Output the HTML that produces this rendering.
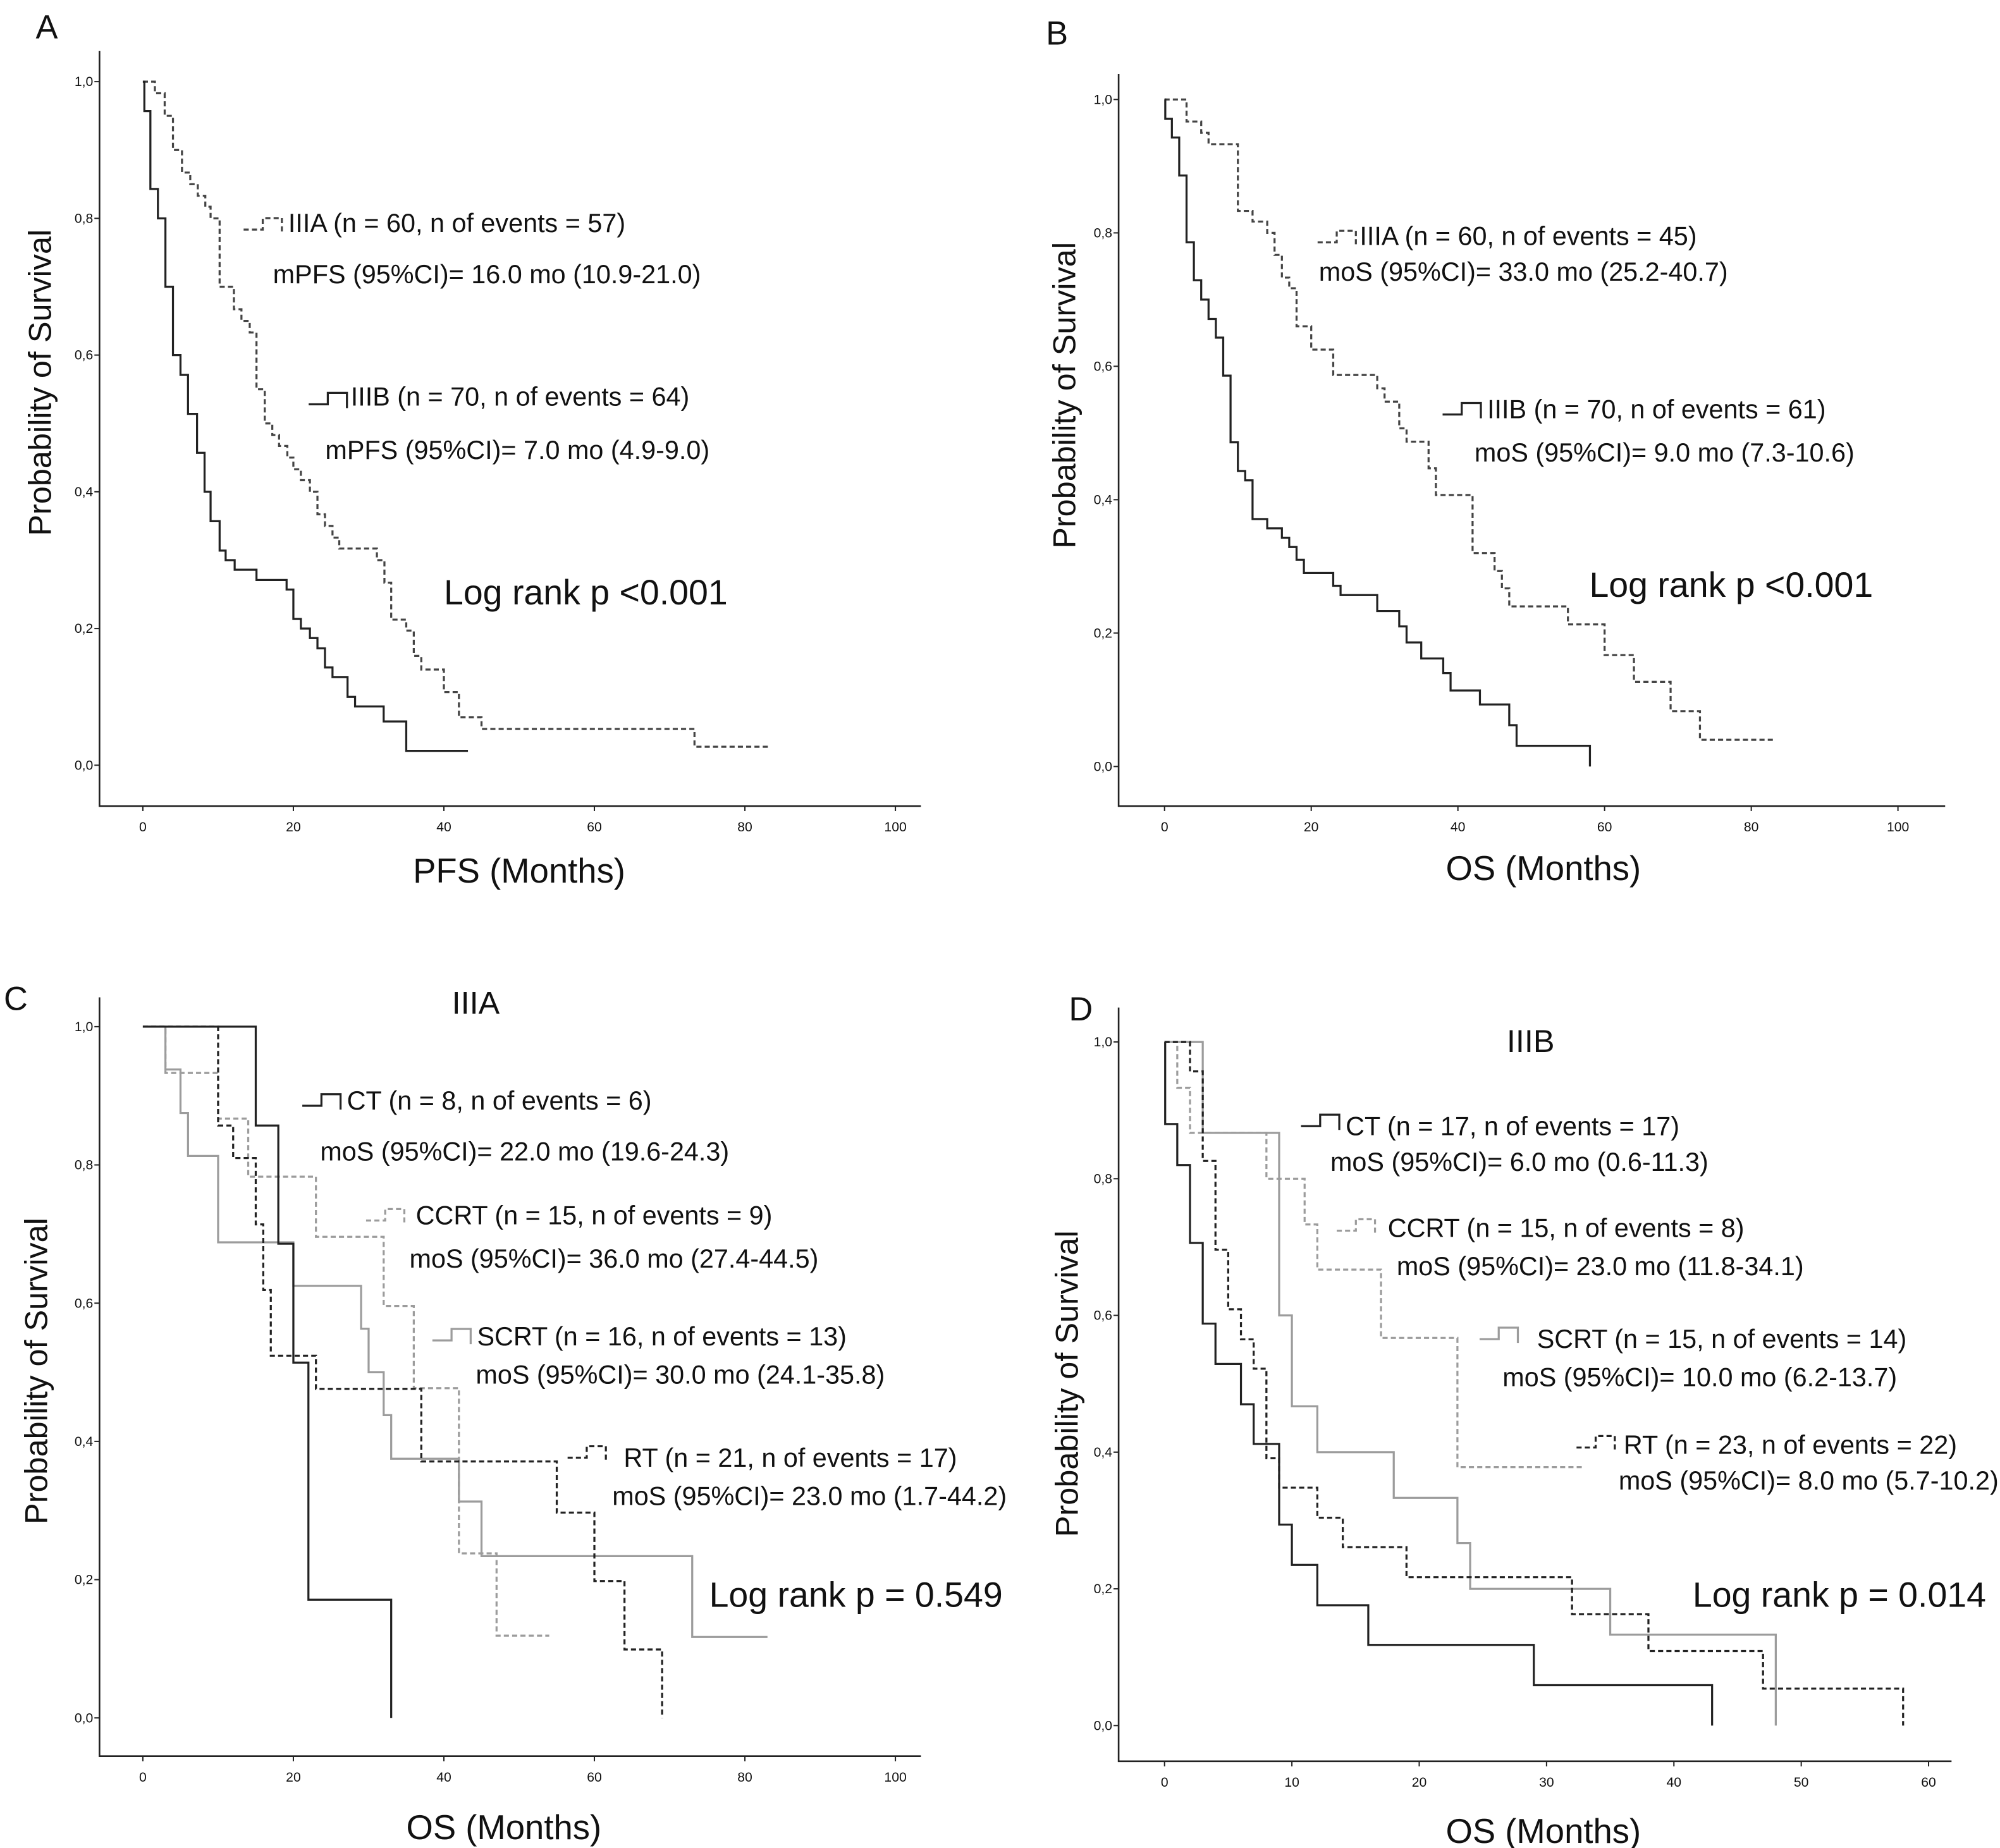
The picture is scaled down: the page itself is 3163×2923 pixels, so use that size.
<!DOCTYPE html>
<html><head><meta charset="utf-8"><style>
html,body{margin:0;padding:0;background:#fff}
svg{display:block}
text{font-family:"Liberation Sans",sans-serif;fill:#111}
</style></head><body>
<svg id="fig" width="3163" height="2923" viewBox="0 0 1568 1449" xmlns="http://www.w3.org/2000/svg">
<rect x="0" y="0" width="1568" height="1449" fill="#fff"/>
</svg>
<script>
// ---- Panel A (PFS) ----
const aIIIAt=[0,1.6,2.9,4,5.2,6.3,7.3,8.3,9,10.2,12.1,13.1,14.2,15.1,16.2,17.2,18.1,19.2,20,21,22.2,23.2,24.2,25.2,26.1,31.1,32.1,33,35,36,37,40,42,45,73.3];
const aIIIAs=[1,0.983,0.95,0.9,0.867,0.85,0.833,0.817,0.8,0.7,0.667,0.65,0.633,0.55,0.5,0.483,0.467,0.45,0.433,0.417,0.4,0.367,0.35,0.333,0.317,0.3,0.267,0.213,0.197,0.16,0.14,0.107,0.07,0.053,0.027];
const aIIIAend=83.2;
const aIIIBt=[0,0.2,1,2,3,4,5,6,7.2,8.2,9,10.2,11,12.2,15.1,19.1,20,21,22.2,23.2,24.2,25.2,27.2,28.2,32,35];
const aIIIBs=[1,0.957,0.843,0.8,0.7,0.6,0.571,0.514,0.457,0.4,0.357,0.314,0.3,0.286,0.271,0.257,0.214,0.2,0.186,0.171,0.143,0.129,0.1,0.086,0.064,0.021];
const aIIIBend=43.2;
// ---- Panel B (OS) ----
const bIIIAt=[0,3,5,6,10,12,14,15,16,17,18,20,23,29,30,32,33,36,37,42,45,46,47,55,60,64,69,73];
const bIIIAs=[1,0.967,0.95,0.933,0.833,0.817,0.8,0.767,0.733,0.717,0.66,0.625,0.587,0.567,0.547,0.507,0.487,0.447,0.407,0.32,0.293,0.267,0.24,0.213,0.167,0.127,0.083,0.04];
const bIIIAend=83;
const bIIIBt=[0,0.1,1,2,3,4,5,6,7,8,9,10,11,12,14,16,17,18,19,23,24,29,32,33,35,38,39,43,47,48,58];
const bIIIBs=[1,0.971,0.943,0.886,0.786,0.729,0.7,0.671,0.643,0.586,0.486,0.443,0.429,0.371,0.357,0.343,0.329,0.31,0.29,0.271,0.257,0.233,0.21,0.186,0.162,0.14,0.114,0.093,0.062,0.031,0];
const bIIIBend=58;
// ---- Panel C (IIIA subgroups) ----
const cCTt=[0,15,18,20,22,33];
const cCTs=[1,0.857,0.686,0.514,0.171,0];
const cCCRTt=[0,3,10,14,23,32,36,42,47];
const cCCRTs=[1,0.933,0.867,0.783,0.696,0.596,0.477,0.238,0.119];
const cCCRTend=54;
const cSCRTt=[0,3,5,6,10,20,29,30,32,33,42,45,73];
const cSCRTs=[1,0.938,0.875,0.813,0.688,0.625,0.563,0.5,0.438,0.375,0.313,0.234,0.117];
const cSCRTend=83;
const cRTt=[0,10,12,15,16,17,23,37,55,60,64,69];
const cRTs=[1,0.857,0.81,0.714,0.619,0.524,0.476,0.371,0.297,0.198,0.099,0];
// ---- Panel D (IIIB subgroups) ----
const dCTt=[0,0.05,1,2,3,4,6,7,9,10,12,16,29,43];
const dCTs=[1,0.88,0.82,0.706,0.588,0.529,0.47,0.412,0.294,0.235,0.176,0.118,0.059,0];
const dCCRTt=[0,1,2,8,11,12,17,23];
const dCCRTs=[1,0.933,0.867,0.8,0.733,0.667,0.567,0.378];
const dCCRTend=33;
const dSCRTt=[0,3,9,10,12,18,23,24,35,48];
const dSCRTs=[1,0.867,0.6,0.467,0.4,0.333,0.267,0.2,0.133,0];
const dRTt=[0,2,3,4,5,6,7,8,9,12,14,19,32,38,47,58];
const dRTs=[1,0.957,0.826,0.696,0.609,0.565,0.522,0.391,0.348,0.304,0.261,0.217,0.163,0.109,0.054,0];
// ticks
const yTicks=[0,0.2,0.4,0.6,0.8,1.0];
const yTickLabels=["0,0","0,2","0,4","0,6","0,8","1,0"];
const xTicks100=[0,20,40,60,80,100];
const xTicks60=[0,10,20,30,40,50,60];

const NS="http://www.w3.org/2000/svg";
const svg=document.getElementById('fig');
function mk(tag,attrs,parent){const e=document.createElementNS(NS,tag);for(const k in attrs)e.setAttribute(k,attrs[k]);(parent||svg).appendChild(e);return e;}
function txt(s,x,y,size,parent,anchor){const t=mk('text',{x:x,y:y,'font-size':size,'text-anchor':anchor||'start'},parent);t.textContent=s;return t;}

function panel(p){
  const g=mk('g',{});
  
  
  const X=v=>p.x0+(v-p.xmin)/(p.xmax-p.xmin)*(p.x1-p.x0);
  const Y=v=>p.y0+(v)*(p.y1-p.y0);
  const frame=mk('path',{d:`M${p.fl},${p.ft} V${p.fb} H${p.fr}`,fill:'none',stroke:'#222','stroke-width':1.3},g);
  
  
  yTicks.forEach((v,i)=>{
    mk('line',{x1:p.fl-4,x2:p.fl,y1:Y(v),y2:Y(v),stroke:'#222','stroke-width':1},g);
    const t=txt(yTickLabels[i],p.fl-5,Y(v)+3.5,10.5,g,'end');
    
    
  });
  p.xticks.forEach(v=>{
    mk('line',{x1:X(v),x2:X(v),y1:p.fb,y2:p.fb+4,stroke:'#222','stroke-width':1},g);
    const t=txt(String(v),X(v),p.fb+20,10.5,g,'middle');
    
    
  });
  const yt=mk('text',{x:0,y:0,'font-size':25,'text-anchor':'middle',transform:`translate(${p.ytx},${p.yty}) rotate(-90)`},g);
  yt.textContent='Probability of Survival';
  
  
  const xt=txt(p.xtitle,p.xtx,p.xty,27,g,'middle');
  
  
  const lt=txt(p.letter,p.lx,p.ly,26,g);
  
  
  if(p.sub){const s=txt(p.sub[0],p.sub[1],p.sub[2],25,g,'middle');
    
    }
  p.curves.forEach(c=>{
    let d=`M${X(c.t[0])},${Y(c.s[0])}`;
    for(let i=1;i<c.t.length;i++){d+=` H${X(c.t[i])} V${Y(c.s[i])}`;}
    if(c.end!==undefined)d+=` H${X(c.end)}`;
    const path=mk('path',{d:d,fill:'none',stroke:c.col,'stroke-width':1.6,'stroke-dasharray':c.dash||'none'},g);
    
    
  });
  p.legend.forEach(l=>{
    const m=mk('path',{d:`M${l.mx},${l.my} h15 v-9 h15 v12`,fill:'none',stroke:l.col,'stroke-width':1.6,'stroke-dasharray':l.dash||'none'},g);
    
    
    const t1=txt(l.label,l.tx,l.ty,20.5,g);
    
    
    const t2=txt(l.med,l.mdx,l.mdy,20.5,g);
    
    
  });
  const lr=txt(p.logrank[0],p.logrank[1],p.logrank[2],27.5,g);
  
  
}
const DK='#222',MD='#444',LT='#9c9c9c',DS='4,2.5';
panel({name:'panel-a',letter:'A',lx:28,ly:30,fl:78,fr:722,ft:40,fb:632,x0:112,x1:702,xmin:0,xmax:100,y0:600,y1:64,xticks:xTicks100,ytx:40,yty:300,xtitle:'PFS (Months)',xtx:407,xty:692,
 curves:[{t:aIIIAt,s:aIIIAs,end:aIIIAend,col:MD,dash:DS,cname:'curve-iiia'},{t:aIIIBt,s:aIIIBs,end:aIIIBend,col:DK,cname:'curve-iiib'}],
 legend:[{mx:191,my:180,col:MD,dash:DS,label:'IIIA (n = 60, n of events = 57)',tx:226,ty:182,med:'mPFS (95%CI)= 16.0 mo (10.9-21.0)',mdx:214,mdy:222},
 {mx:242,my:317,col:DK,label:'IIIB (n = 70, n of events = 64)',tx:275,ty:318,med:'mPFS (95%CI)= 7.0 mo (4.9-9.0)',mdx:255,mdy:360}],
 logrank:['Log rank p <0.001',348,474]});
panel({name:'panel-b',letter:'B',lx:820,ly:35,fl:877,fr:1525,ft:58,fb:632,x0:913,x1:1488,xmin:0,xmax:100,y0:601,y1:78,xticks:xTicks100,ytx:843,yty:310,xtitle:'OS (Months)',xtx:1210,xty:690,
 curves:[{t:bIIIAt,s:bIIIAs,end:bIIIAend,col:MD,dash:DS,cname:'curve-iiia'},{t:bIIIBt,s:bIIIBs,end:bIIIBend,col:DK,cname:'curve-iiib'}],
 legend:[{mx:1033,my:190,col:MD,dash:DS,label:'IIIA (n = 60, n of events = 45)',tx:1066,ty:192,med:'moS (95%CI)= 33.0 mo (25.2-40.7)',mdx:1034,mdy:220},
 {mx:1131,my:325,col:DK,label:'IIIB (n = 70, n of events = 61)',tx:1166,ty:328,med:'moS (95%CI)= 9.0 mo (7.3-10.6)',mdx:1156,mdy:362}],
 logrank:['Log rank p <0.001',1246,468]});
panel({name:'panel-c',letter:'C',lx:3,ly:792,sub:['IIIA',373,795],fl:78,fr:722,ft:782,fb:1377,x0:112,x1:702,xmin:0,xmax:100,y0:1347,y1:805,xticks:xTicks100,ytx:37,yty:1075,xtitle:'OS (Months)',xtx:395,xty:1442,
 curves:[{t:cCCRTt,s:cCCRTs,end:cCCRTend,col:LT,dash:DS,cname:'curve-ccrt'},{t:cSCRTt,s:cSCRTs,end:cSCRTend,col:LT,cname:'curve-scrt'},{t:cRTt,s:cRTs,col:DK,dash:DS,cname:'curve-rt'},{t:cCTt,s:cCTs,col:DK,cname:'curve-ct'}],
 legend:[{mx:237,my:867,col:DK,label:'CT (n = 8, n of events = 6)',tx:272,ty:870,med:'moS (95%CI)= 22.0 mo (19.6-24.3)',mdx:251,mdy:910},
 {mx:287,my:957,col:LT,dash:DS,label:'CCRT (n = 15, n of events = 9)',tx:326,ty:960,med:'moS (95%CI)= 36.0 mo (27.4-44.5)',mdx:321,mdy:994},
 {mx:339,my:1051,col:LT,label:'SCRT (n = 16, n of events = 13)',tx:374,ty:1055,med:'moS (95%CI)= 30.0 mo (24.1-35.8)',mdx:373,mdy:1085},
 {mx:445,my:1143,col:DK,dash:DS,label:'RT (n = 21, n of events = 17)',tx:489,ty:1150,med:'moS (95%CI)= 23.0 mo (1.7-44.2)',mdx:480,mdy:1180}],
 logrank:['Log rank p = 0.549',556,1260]});
panel({name:'panel-d',letter:'D',lx:838,ly:800,sub:['IIIB',1200,825],fl:877,fr:1530,ft:790,fb:1381,x0:913,x1:1512,xmin:0,xmax:60,y0:1353,y1:817,xticks:xTicks60,ytx:845,yty:1085,xtitle:'OS (Months)',xtx:1210,xty:1445,
 curves:[{t:dCCRTt,s:dCCRTs,end:dCCRTend,col:LT,dash:DS,cname:'curve-ccrt'},{t:dSCRTt,s:dSCRTs,col:LT,cname:'curve-scrt'},{t:dRTt,s:dRTs,col:DK,dash:DS,cname:'curve-rt'},{t:dCTt,s:dCTs,col:DK,cname:'curve-ct'}],
 legend:[{mx:1020,my:883,col:DK,label:'CT (n = 17, n of events = 17)',tx:1055,ty:890,med:'moS (95%CI)= 6.0 mo (0.6-11.3)',mdx:1043,mdy:918},
 {mx:1048,my:965,col:LT,dash:DS,label:'CCRT (n = 15, n of events = 8)',tx:1088,ty:970,med:'moS (95%CI)= 23.0 mo (11.8-34.1)',mdx:1095,mdy:1000},
 {mx:1160,my:1050,col:LT,label:'SCRT (n = 15, n of events = 14)',tx:1205,ty:1057,med:'moS (95%CI)= 10.0 mo (6.2-13.7)',mdx:1178,mdy:1087},
 {mx:1236,my:1135,col:DK,dash:DS,label:'RT (n = 23, n of events = 22)',tx:1273,ty:1140,med:'moS (95%CI)= 8.0 mo (5.7-10.2)',mdx:1269,mdy:1168}],
 logrank:['Log rank p = 0.014',1327,1260]});
</script>
</body></html>
